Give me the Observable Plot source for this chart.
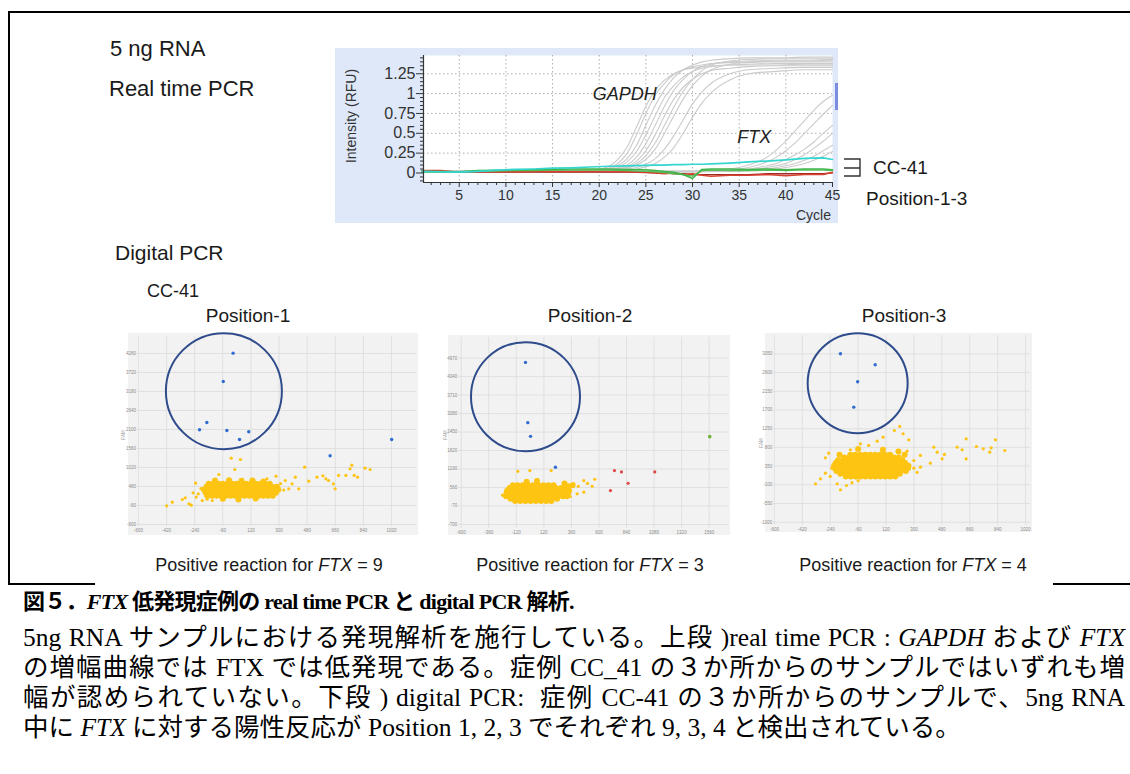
<!DOCTYPE html>
<html><head><meta charset="utf-8">
<script src="https://cdn.jsdelivr.net/npm/d3@7"></script>
<script src="https://cdn.jsdelivr.net/npm/@observablehq/plot@0.6"></script>
<style>
body{margin:0;background:#fff;}
#page{position:relative;width:1130px;height:774px;overflow:hidden;font-family:"Liberation Sans",Arial,sans-serif;color:#1a1a1a;}
.abs{position:absolute;}
.cap{position:absolute;left:23px;font-family:"Liberation Serif","Noto Sans CJK JP",serif;font-size:25.5px;line-height:30px;white-space:nowrap;color:#000;}
.just{width:1102px;text-align:justify;text-align-last:justify;}
.head{font-weight:bold;font-size:22px;letter-spacing:-0.75px;}
</style></head>
<body><div id="page">
<div id="rt" class="abs" style="left:335px;top:48px"></div>
<div id="p1" class="abs" style="left:128px;top:333px"></div>
<div id="p2" class="abs" style="left:448px;top:335px"></div>
<div id="p3" class="abs" style="left:765px;top:333px"></div>

<svg class="abs" style="left:0;top:0" width="1130" height="774">
  <g fill="none" stroke="#000" stroke-width="2">
    <path d="M9,585 V12 H1130"/>
    <path d="M8,584 H95"/>
    <path d="M1053,584 H1130"/>
  </g>
  <rect x="835" y="83" width="3" height="27" fill="#7b8de0"/>
  <path d="M844,159 H860 V176 H844 M844,168 H860" fill="none" stroke="#333" stroke-width="1.4"/>
  <g font-family="Liberation Sans, Arial, sans-serif" fill="#1a1a1a">
    <text x="110" y="56" font-size="22">5 ng RNA</text>
    <text x="109" y="96" font-size="22">Real time PCR</text>
    <text x="115" y="260" font-size="21">Digital PCR</text>
    <text x="147" y="297" font-size="18">CC-41</text>
    <text x="248" y="322" font-size="19" text-anchor="middle">Position-1</text>
    <text x="590" y="322" font-size="19" text-anchor="middle">Position-2</text>
    <text x="904" y="322" font-size="19" text-anchor="middle">Position-3</text>
    <text x="269" y="571" font-size="18" text-anchor="middle">Positive reaction for <tspan font-style="italic">FTX</tspan> = 9</text>
    <text x="590" y="571" font-size="18" text-anchor="middle">Positive reaction for <tspan font-style="italic">FTX</tspan> = 3</text>
    <text x="913" y="571" font-size="18" text-anchor="middle">Positive reaction for <tspan font-style="italic">FTX</tspan> = 4</text>
    <text x="873" y="174" font-size="19">CC-41</text>
    <text x="866" y="205" font-size="19">Position-1-3</text>
    <text transform="translate(356,116) rotate(-90)" text-anchor="middle" font-size="14" fill="#333">Intensity (RFU)</text>
    <text x="831" y="220" text-anchor="end" font-size="14" fill="#333">Cycle</text>
    <text transform="translate(125,435) rotate(-90)" text-anchor="middle" font-size="4.5" fill="#999">FAM</text>
    <text transform="translate(447,435) rotate(-90)" text-anchor="middle" font-size="4.5" fill="#999">FAM</text>
    <text transform="translate(763,443) rotate(-90)" text-anchor="middle" font-size="4.5" fill="#999">FAM</text>
  </g>
</svg>

<div class="cap head" style="top:587px">図５．<i>FTX</i> 低発現症例の real time PCR と digital PCR 解析.</div>
<div class="cap just" style="top:623px">5ng RNA サンプルにおける発現解析を施行している。上段 )real time PCR : <i>GAPDH</i> および <i>FTX</i></div>
<div class="cap just" style="top:653px">の増幅曲線では FTX では低発現である。症例 CC_41 の３か所からのサンプルではいずれも増</div>
<div class="cap just" style="top:683px">幅が認められていない。下段 ) digital PCR:&nbsp; 症例 CC-41 の３か所からのサンプルで、5ng RNA</div>
<div class="cap" style="top:713px">中に <i>FTX</i> に対する陽性反応が Position 1, 2, 3 でそれぞれ 9, 3, 4 と検出されている。</div>
</div>

<script>
// ---------------- Real time PCR data ----------------
const rtXTicks = [5, 10, 15, 20, 25, 30, 35, 40, 45];
const rtXMinor = [2,3,4,6,7,8,9,11,12,13,14,16,17,18,19,21,22,23,24,26,27,28,29,31,32,33,34,36,37,38,39,41,42,43,44];
const rtYTicks = [0, 0.25, 0.5, 0.75, 1, 1.25];
const rtYMinor = [-0.1,-0.05,0.05,0.1,0.15,0.2,0.3,0.35,0.4,0.45,0.55,0.6,0.65,0.7,0.8,0.85,0.9,0.95,1.05,1.1,1.15,1.2,1.3,1.35,1.4,1.45];

const gapdhCycles = [1, 19, 21, 22, 23, 24, 25, 26, 27, 28, 29, 30, 31, 32, 34, 36, 39, 42, 45];
const gapdh1  = [0.02,0.03,0.06,0.12,0.25,0.48,0.75,0.98,1.13,1.24,1.30,1.34,1.36,1.38,1.39,1.40,1.41,1.41,1.42];
const gapdh2  = [0.02,0.03,0.05,0.09,0.18,0.35,0.60,0.85,1.05,1.20,1.30,1.36,1.40,1.42,1.44,1.45,1.45,1.46,1.46];
const gapdh3  = [0.02,0.03,0.04,0.07,0.14,0.27,0.48,0.72,0.95,1.10,1.21,1.28,1.32,1.34,1.36,1.37,1.38,1.38,1.38];
const gapdh4  = [0.02,0.02,0.04,0.06,0.10,0.20,0.37,0.60,0.84,1.04,1.18,1.28,1.34,1.37,1.40,1.41,1.42,1.42,1.43];
const gapdh5  = [0.02,0.02,0.03,0.05,0.08,0.15,0.28,0.48,0.72,0.93,1.08,1.18,1.25,1.29,1.32,1.34,1.35,1.35,1.35];
const gapdh6  = [0.02,0.02,0.03,0.04,0.06,0.10,0.17,0.30,0.50,0.72,0.93,1.10,1.22,1.30,1.37,1.39,1.40,1.40,1.40];
const gapdh7  = [0.02,0.02,0.03,0.03,0.05,0.07,0.11,0.18,0.30,0.47,0.67,0.87,1.02,1.13,1.25,1.30,1.32,1.33,1.33];
const gapdh8  = [0.02,0.02,0.02,0.03,0.04,0.05,0.08,0.12,0.20,0.32,0.50,0.70,0.88,1.01,1.17,1.25,1.28,1.30,1.30];
const gapdh9  = [0.02,0.03,0.08,0.17,0.33,0.58,0.84,1.04,1.17,1.25,1.30,1.32,1.34,1.35,1.36,1.36,1.36,1.37,1.37];
const gapdh10 = [0.02,0.02,0.03,0.05,0.07,0.12,0.22,0.38,0.60,0.83,1.03,1.18,1.29,1.36,1.41,1.43,1.44,1.44,1.44];

const ftxCycles = [1, 30, 33, 35, 36, 37, 38, 39, 40, 41, 42, 43, 44, 45];
const ftx1 = [0.02,0.02,0.04,0.07,0.10,0.14,0.20,0.29,0.40,0.53,0.66,0.79,0.90,0.98];
const ftx2 = [0.02,0.02,0.03,0.05,0.07,0.10,0.14,0.20,0.28,0.38,0.50,0.62,0.74,0.85];
const ftx3 = [0.02,0.02,0.03,0.04,0.05,0.07,0.09,0.12,0.17,0.23,0.30,0.39,0.50,0.60];
const ftx4 = [0.02,0.02,0.02,0.03,0.04,0.05,0.07,0.09,0.12,0.17,0.23,0.31,0.40,0.50];
const ftx5 = [0.02,0.02,0.02,0.03,0.03,0.04,0.05,0.07,0.09,0.12,0.16,0.21,0.28,0.35];
const ftx6 = [0.01,0.01,0.02,0.02,0.03,0.03,0.04,0.05,0.07,0.09,0.12,0.16,0.21,0.27];

const cc41Cycles = [1,3,5,7,9,11,13,15,17,19,21,23,25,26,27,28,29,30,31,32,34,36,38,40,42,44,45];
const cc41Cyan   = [0.02,0.015,0.01,0.02,0.035,0.045,0.05,0.06,0.065,0.075,0.085,0.09,0.095,0.1,0.1,0.105,0.105,0.11,0.11,0.115,0.125,0.14,0.15,0.165,0.185,0.19,0.17];
const cc41Green1 = [0.02,0.02,0.015,0.03,0.035,0.04,0.04,0.045,0.05,0.05,0.05,0.045,0.04,0.03,0.02,0.01,-0.02,-0.07,0.045,0.05,0.05,0.045,0.05,0.04,0.05,0.05,0.04];
const cc41Green2 = [0.01,0.01,0.01,0.02,0.025,0.03,0.03,0.035,0.035,0.04,0.035,0.03,0.02,0.015,0.005,-0.01,-0.02,-0.04,0.03,0.035,0.03,0.03,0.035,0.03,0.04,0.035,0.03];
const cc41Red1   = [0.03,0.03,0.01,0.02,0.015,0.015,0.02,0.02,0.02,0.02,0.02,0.015,0.01,0.0,-0.01,0.0,-0.02,-0.01,-0.03,-0.04,-0.03,-0.03,-0.02,-0.035,-0.02,-0.02,0.01];
const cc41Red2   = [0.02,0.02,0.01,0.01,0.01,0.01,0.01,0.01,0.01,0.01,0.01,0.01,0.005,0.0,0.0,-0.01,-0.01,-0.02,-0.02,-0.02,-0.02,-0.02,-0.01,-0.01,-0.01,-0.01,0.0];

const rtLabels = [{text: "GAPDH", cycle: 19.3, value: 0.99}, {text: "FTX", cycle: 34.8, value: 0.45}];

// ---------------- Digital PCR data ----------------
const p1XTicks = [-600,-420,-240,-60,120,300,480,660,840,1020];
const p1YTicks = [-600,-60,480,1020,1560,2100,2640,3180,3720,4260];
const p2XTicks = [-600,-360,-120,120,360,600,840,1080,1320,1560];
const p2YTicks = [-700,-70,560,1190,1820,2450,3080,3710,4340,4970];
const p3XTicks = [-600,-420,-240,-60,120,300,480,660,840,1020];
const p3YTicks = [-1000,-550,-100,350,800,1250,1700,2150,2600,3050];

// dense yellow cluster, row by row
const p1CoreRowY = [560, 475, 390, 305, 220];
const p1CoreRowX = [
  [-150,-120,-90,-60,-30,0,30,60,90,120,150,180,210,240],
  [-165,-135,-105,-75,-45,-15,15,45,75,105,135,165,195,225,255,285],
  [-180,-150,-120,-90,-60,-30,0,30,60,90,120,150,180,210,240,270,295],
  [-170,-140,-110,-80,-50,-20,10,40,70,100,130,160,190,220,250,280],
  [-160,-130,-100,-70,-40,-10,20,50,80,110,140,170,200,230,260]
];
const p1CoreExtra = [[-110,650],[-20,660],[60,640],[130,650],[200,620],[-60,130],[40,110],[150,140]];
const p1Yellow = [[-419,-69],[-383,34],[-319,110],[-276,-12],[-262,-50],[-217,272],[-234,574],[-191,82],[-127,82],[-85,821],[-6,1284],[53,1247],[17,963],[223,699],[281,773],[340,650],[383,557],[426,415],[464,1029],[490,631],[543,745],[581,784],[617,650],[659,415],[648,557],[681,794],[728,794],[766,1085],[781,794],[803,745],[851,1000],[883,963],[755,983],[600,699],[404,745],[298,460],[362,415],[-250,300],[-230,180],[-200,420],[310,560],[330,380],[-300,160],[-160,120]];
const p1Blue = [[6,4270],[-57,3464],[-162,2299],[-209,2091],[-34,2072],[47,1816],[106,2034],[627,1352],[1021,1816]];
const p1Circle = [-53, 3190];

const p2CoreRowY = [640, 545, 450, 355, 260, 180, 100];
const p2CoreRowX = [
  [-150,-110,-65,-20,25,70,115,160,205],
  [-180,-135,-90,-45,0,45,90,135,180,225,270,315],
  [-200,-155,-110,-65,-20,25,70,115,160,205,250,295,340],
  [-205,-160,-115,-70,-25,20,65,110,155,200,245,290,330],
  [-210,-165,-120,-75,-30,15,60,105,150,195,240,285,320],
  [-170,-125,-80,-35,10,55,100,145,190,235],
  [-130,-85,-40,5,50,95,140,185]
];
const p2CoreExtra = [[330,600],[370,640],[300,700],[-30,760],[60,780]];
const p2Yellow = [[-107,1113],[-2,1137],[184,1137],[62,831],[381,685],[468,797],[563,842],[541,603],[468,400],[410,344],[323,514],[-199,344],[-214,433],[420,600],[500,700],[-240,300],[350,250]];
const p2Blue = [[-40,4822],[-20,2770],[4,2304],[221,1249]];
const p2Red = [[735,1137],[796,1093],[854,705],[700,457],[1086,1093]];
const p2Green = [[1565,2294]];
const p2Circle = [-40, 3655];

const p3CoreRowY = [620, 555, 490, 425, 360, 295, 230, 165, 100];
const p3CoreRowX = [
  [-110,-78,-46,-14,18,50,82,114,146],
  [-150,-118,-86,-54,-22,10,42,74,106,138,170,202],
  [-190,-158,-126,-94,-62,-30,2,34,66,98,130,162,194,226],
  [-205,-173,-141,-109,-77,-45,-13,19,51,83,115,147,179,211,243],
  [-215,-183,-151,-119,-87,-55,-23,9,41,73,105,137,169,201,233,265],
  [-210,-178,-146,-114,-82,-50,-18,14,46,78,110,142,174,206,238,262],
  [-200,-168,-136,-104,-72,-40,-8,24,56,88,120,152,184,216,248],
  [-175,-143,-111,-79,-47,-15,17,49,81,113,145,177,209],
  [-140,-108,-76,-44,-12,20,52,84,116,148,180]
];
const p3CoreExtra = [[-60,760],[100,740],[200,700],[-180,620],[240,620]];
const p3Yellow = [[-335,-76],[-303,44],[-271,179],[-271,549],[-250,660],[-174,-220],[-195,-76],[-135,-117],[-110,742],[-45,886],[8,846],[63,949],[101,1045],[174,1206],[208,1303],[230,1127],[267,982],[256,708],[299,484],[342,605],[342,323],[406,420],[428,805],[450,684],[482,525],[497,629],[579,805],[611,742],[637,1006],[637,525],[703,821],[747,766],[789,684],[798,790],[826,982],[886,725],[-230,300],[-240,100],[-100,-50],[-60,0],[300,300],[320,200]];
const p3Blue = [[-174,3052],[50,2787],[-63,2378],[-88,1767]];
const p3Circle = [-63, 2344];

// ---------------- Real time PCR chart ----------------
function longForm(cycles, series, prefix) {
  const out = [];
  series.forEach((vals, i) => vals.forEach((v, j) => out.push({cycle: cycles[j], value: v, id: prefix + i})));
  return out;
}
const grayData = longForm(gapdhCycles, [gapdh1,gapdh2,gapdh3,gapdh4,gapdh5,gapdh6,gapdh7,gapdh8,gapdh9,gapdh10], "g")
  .concat(longForm(ftxCycles, [ftx1,ftx2,ftx3,ftx4,ftx5,ftx6], "f"));
const ccLine = (vals, color, w) => Plot.line(longForm(cc41Cycles, [vals], "c"), {x: "cycle", y: "value", stroke: color, strokeWidth: w, curve: "linear"});

const xDom = [1.17, 45], yDom = [-0.12, 1.48];
const rt = Plot.plot({
  width: 503, height: 175,
  marginLeft: 88, marginRight: 6, marginTop: 7, marginBottom: 41,
  style: {background: "#dee8f8", color: "#333", fontFamily: "Liberation Sans, Arial, sans-serif", fontSize: "16px", overflow: "visible"},
  x: {domain: xDom},
  y: {domain: yDom},
  marks: [
    Plot.frame({fill: "white", stroke: null}),
    Plot.gridX(rtXTicks.slice(0, -1), {stroke: "#9a9a9a", strokeOpacity: 0.8, strokeDasharray: "1.5,2.5"}),
    Plot.gridY(rtYTicks.slice(1), {stroke: "#9a9a9a", strokeOpacity: 0.8, strokeDasharray: "1.5,2.5"}),
    Plot.line(grayData, {x: "cycle", y: "value", z: "id", stroke: "#cbcbcb", strokeWidth: 1.1, curve: "monotone-x"}),
    ccLine(cc41Red2, "#9a2b24", 1.3),
    ccLine(cc41Red1, "#d8412f", 1.5),
    ccLine(cc41Green2, "#56c05a", 1.3),
    ccLine(cc41Green1, "#3fb44a", 1.5),
    ccLine(cc41Cyan, "#35d5d0", 1.7),
    Plot.text(rtLabels, {x: "cycle", y: "value", text: "text", textAnchor: "start", fontStyle: "italic", fontSize: 18, fill: "#222"}),
    Plot.ruleX([xDom[0]], {stroke: "#333", strokeWidth: 1.2}),
    Plot.ruleY([yDom[0]], {stroke: "#333", strokeWidth: 1.2}),
    Plot.axisY(rtYTicks, {tickSize: 7, tickPadding: 1, tickFormat: d => String(d), label: null}),
    Plot.axisY(rtYMinor, {tickSize: 3, tickFormat: () => "", label: null}),
    Plot.axisX(rtXTicks, {tickSize: 5, tickPadding: 3, fontSize: 14, tickFormat: d => String(d), label: null}),
    Plot.axisX(rtXMinor, {tickSize: 3, tickFormat: () => "", label: null})
  ]
});
document.getElementById("rt").append(rt);

// ---------------- Digital PCR charts ----------------
const YELLOW = "#fdc412", BLUE = "#2f6bd0", NAVY = "#2e4b8b";
const coreOf = (rowsY, rowsX, extra) => rowsY.flatMap((y, i) => rowsX[i].map(x => [x, y])).concat(extra);
const px = d => d[0], py = d => d[1];

function scatter(o) {
  return Plot.plot({
    width: o.w, height: o.h,
    marginLeft: o.ml, marginRight: o.mr, marginTop: o.mt, marginBottom: o.mb,
    style: {background: "#f2f2f2", color: "#8c8c8c", fontFamily: "Liberation Sans, Arial, sans-serif", fontSize: "4.5px", overflow: "visible"},
    x: {domain: o.xd},
    y: {domain: o.yd},
    marks: [
      Plot.gridX(o.xt, {stroke: "#dcdcdc", strokeOpacity: 1, strokeWidth: 0.8}),
      Plot.gridY(o.yt, {stroke: "#dcdcdc", strokeOpacity: 1, strokeWidth: 0.8}),
      Plot.axisX(o.xt, {tickSize: 0, tickPadding: 2, tickFormat: d => String(d), label: null}),
      Plot.axisY(o.yt, {tickSize: 0, tickPadding: 1.5, tickFormat: d => String(d), label: null}),
      Plot.dot(o.core, {x: px, y: py, r: 3, fill: YELLOW}),
      Plot.dot(o.yellow, {x: px, y: py, r: 1.6, fill: YELLOW}),
      Plot.dot(o.red || [], {x: px, y: py, r: 1.6, fill: "#e04646"}),
      Plot.dot(o.green || [], {x: px, y: py, r: 1.8, fill: "#6fb23a"}),
      Plot.dot(o.blue, {x: px, y: py, r: 1.7, fill: BLUE}),
      Plot.dot([o.circle], {x: px, y: py, r: o.cr, fill: "none", stroke: NAVY, strokeWidth: 2})
    ]
  });
}

document.getElementById("p1").append(scatter({
  w: 290, h: 202, ml: 9, mr: 2, mt: 3, mb: 9,
  xd: [-606, 1180], yd: [-657, 4743], xt: p1XTicks, yt: p1YTicks,
  core: coreOf(p1CoreRowY, p1CoreRowX, p1CoreExtra), yellow: p1Yellow, blue: p1Blue,
  circle: p1Circle, cr: 58
}));
document.getElementById("p2").append(scatter({
  w: 282, h: 200, ml: 10.3, mr: 1.7, mt: 2, mb: 7,
  xd: [-621, 1731], yd: [-836, 5671], xt: p2XTicks, yt: p2YTicks,
  core: coreOf(p2CoreRowY, p2CoreRowX, p2CoreExtra), yellow: p2Yellow, blue: p2Blue, red: p2Red, green: p2Green,
  circle: p2Circle, cr: 54.5
}));
document.getElementById("p3").append(scatter({
  w: 267, h: 199, ml: 8.3, mr: 2, mt: 2, mb: 7,
  xd: [-604, 1052], yd: [-1079, 3490], xt: p3XTicks, yt: p3YTicks,
  core: coreOf(p3CoreRowY, p3CoreRowX, p3CoreExtra), yellow: p3Yellow, blue: p3Blue,
  circle: p3Circle, cr: 50
}));
</script>
</body></html>
